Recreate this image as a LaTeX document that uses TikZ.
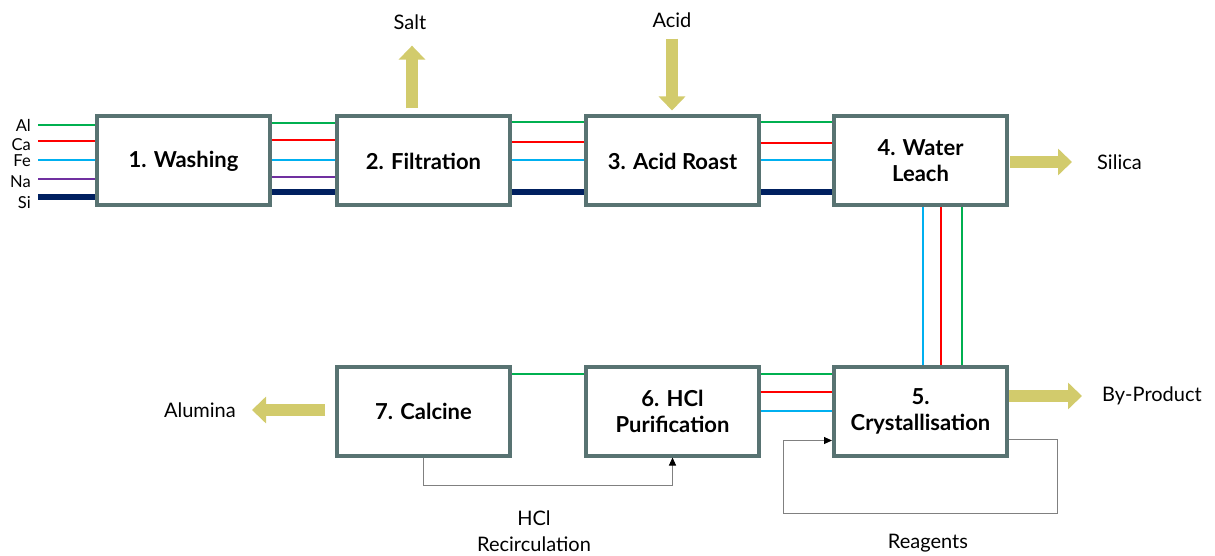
\documentclass[tikz,border=0pt]{standalone}
\usepackage{fontspec}
\setmainfont{Lato}
\usetikzlibrary{positioning,arrows.meta}
\definecolor{boxline}{HTML}{587372}
\definecolor{khaki}{HTML}{D2CB6C}
\definecolor{alg}{HTML}{00B050}
\definecolor{car}{HTML}{FF0000}
\definecolor{feb}{HTML}{00B0F0}
\definecolor{nap}{HTML}{7030A0}
\definecolor{sin}{HTML}{002060}

\begin{document}
\begin{tikzpicture}[
  x=1pt, y=-1pt,
  box/.style={draw=boxline, line width=4pt, fill=white, minimum width=173pt, minimum height=89pt,
    align=center, font=\bfseries\fontsize{22}{26}\selectfont},
  lbl/.style={inner sep=0pt, align=center, font=\fontsize{20}{26}\selectfont},
  elem/.style={inner sep=0pt, font=\fontsize{16.5}{18}\selectfont},
  feed/.style={draw=khaki, line width=12pt, -{Triangle[length=14pt,width=26pt]}},
  loopline/.style={draw=gray, line width=1pt, -{Triangle[length=8pt,width=7pt,color=black]}},
  al/.style={draw=alg, line width=2.6pt},
  ca/.style={draw=car, line width=2.4pt},
  fe/.style={draw=feb, line width=2.4pt},
  na/.style={draw=nap, line width=1.8pt},
  si/.style={draw=sin, line width=6pt}]
\useasboundingbox (0,0) rectangle (1215,556);

% top row
\node[box] (wash) at (183.5,161) {1. Washing};
\node[box, right=63pt of wash] (filt) {2. Filtration};
\node[box, right=72pt of filt] (roast) {3. Acid Roast};
\node[box, right=71pt of roast] (leach) {4. Water\\ Leach};
% bottom row
\node[box, below=157pt of leach] (cryst) {5.\\ Crystallisation};
\node[box, left=71pt of cryst] (hclp) {6. HCl\\ Purification};
\node[box, left=72pt of hclp] (calc) {7. Calcine};

% feed elements
\foreach \n/\c/\y/\t in {Al/al/125/125, Ca/ca/141/145, Fe/fe/160/161, Na/na/179/182, Si/si/197/203} {
  \node[elem, anchor=east] (l\n) at (31,\t) {\n};
  \coordinate (in\n) at (38,\y);
  \draw[\c] (in\n) -- (wash.west |- in\n);
}
\foreach \c/\y in {al/123, ca/140, fe/160, na/177, si/192}
  \draw[\c] (wash.east |- 0,\y) -- (filt.west |- 0,\y);
\foreach \c/\y in {al/122, ca/142, fe/160, si/192}
  \draw[\c] (filt.east |- 0,\y) -- (roast.west |- 0,\y);
\foreach \c/\y in {al/122, ca/143, fe/160, si/192}
  \draw[\c] (roast.east |- 0,\y) -- (leach.west |- 0,\y);
\foreach \c/\x in {fe/923, ca/941, al/962}
  \draw[\c] (leach.south -| \x,0) -- (cryst.north -| \x,0);
\foreach \c/\y in {al/374, ca/392, fe/411}
  \draw[\c] (hclp.east |- 0,\y) -- (cryst.west |- 0,\y);
\draw[al] (calc.east |- 0,374) -- (hclp.west |- 0,374);

% products and reagents
\node[lbl] (salt) at (410,22) {Salt};
\node[lbl] (acid) at (672,20) {Acid};
\node[lbl, anchor=west] (silica) at (1097,162) {Silica};
\node[lbl, anchor=west] (byprod) at (1102,396) {By-Product};
\node[lbl, anchor=east] (alumina) at (236,410) {Alumina};
\node[lbl] (recirc) at (534,531) {HCl\\ Recirculation};
\node[lbl] (reag) at (928,543) {Reagents};

\draw[feed, shorten <=6pt, shorten >=16pt] (filt.north -| 412,0) -- (salt.south -| 412,0);
\draw[feed, shorten <=11pt, shorten >=4pt] (acid) -- (roast.north -| acid);
\draw[feed, shorten <=1pt, shorten >=25pt] (leach.east |- silica) -- (silica);
\draw[feed, shorten >=20pt] (cryst.east |- byprod) -- (byprod);
\draw[feed, shorten <=10pt, shorten >=16pt] (calc.west |- alumina) -- (alumina);

% recirculation loops
\draw[loopline] (calc.south) -- ++(0,28) -| (hclp.south);
\draw[loopline] ([yshift=-28.5pt]cryst.east) -- ++(48,0) -- ++(0,74) -- ++(-274,0)
  |- ([yshift=-29.5pt]cryst.west);
\end{tikzpicture}
\end{document}
